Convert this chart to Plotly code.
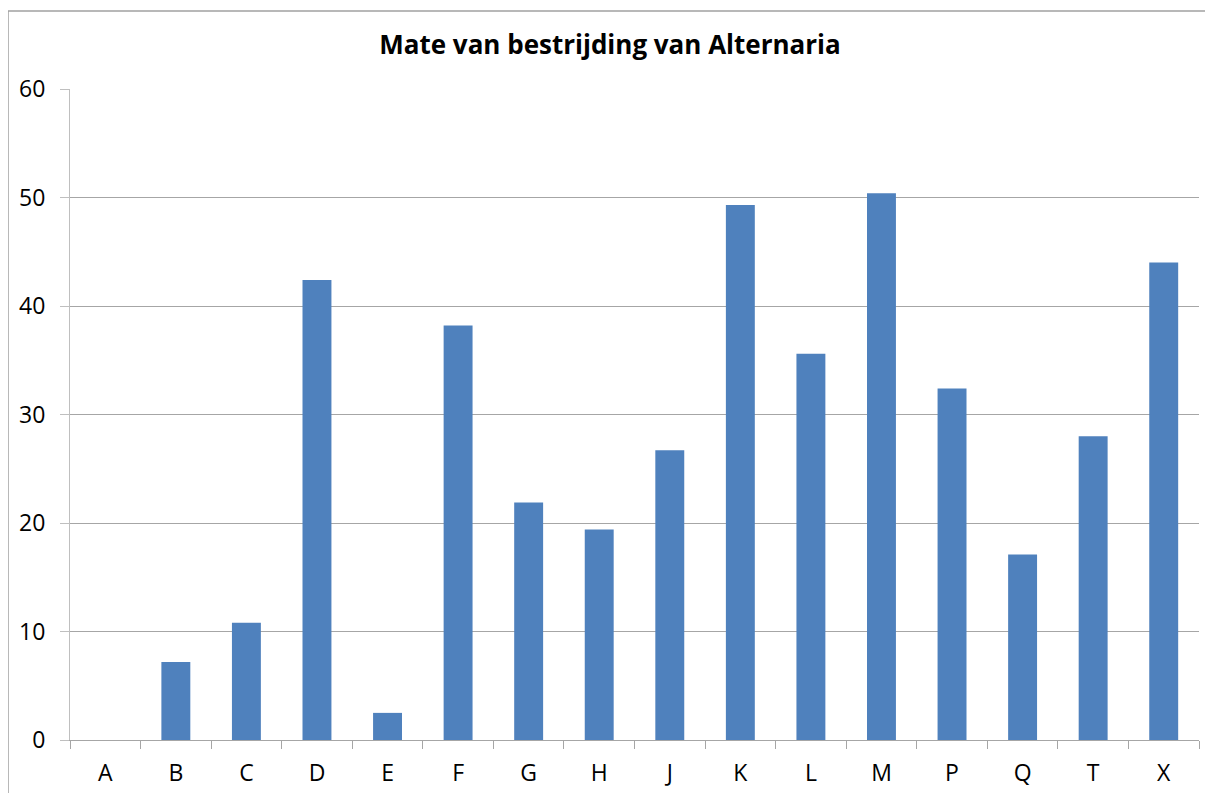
import plotly.graph_objects as go

categories = ["A", "B", "C", "D", "E", "F", "G", "H", "J", "K", "L", "M", "P", "Q", "T", "X"]
values = [0, 7.2, 10.8, 42.4, 2.5, 38.2, 21.9, 19.4, 26.7, 49.3, 35.6, 50.4, 32.4, 17.1, 28.0, 44.0]
y_ticks = [0, 10, 20, 30, 40, 50, 60]
title_text = "Mate van bestrijding van Alternaria"

# page has an 8px body margin, so figure coords = screen coords - 8
W, H = 1213, 793
L, R, T, B = 62, 22, 81, 61
pw = W - L - R
ph = H - T - B

fig = go.Figure()
fig.add_trace(go.Bar(
    x=categories, y=values,
    marker=dict(color="#4F81BD", line=dict(width=0)),
    width=0.41,
))

fig.update_layout(
    width=W, height=H,
    margin=dict(l=L, r=R, t=T, b=B),
    paper_bgcolor="white", plot_bgcolor="white",
    showlegend=False,
    font=dict(family="Open Sans, Carlito, Calibri, sans-serif", color="black"),
    title=dict(text="<b>" + title_text + "</b>", x=602 / W, xanchor="center",
               y=1 - 37 / H, yanchor="middle", xref="container", yref="container",
               font=dict(size=26, color="black")),
    xaxis=dict(
        type="category", range=[-0.5, len(categories) - 0.5],
        showgrid=False, showline=True, linecolor="#A6A6A6", linewidth=1,
        ticks="outside", ticklen=8, tickcolor="#A6A6A6", tickson="boundaries",
        tickfont=dict(size=23), zeroline=False, ticklabelstandoff=12,
    ),
    yaxis=dict(
        range=[0, 60], tickvals=y_ticks, showgrid=True, gridcolor="#A6A6A6", gridwidth=1,
        showline=True, linecolor="#BFBFBF", linewidth=1,
        ticks="outside", ticklen=9, tickcolor="#BFBFBF",
        tickfont=dict(size=23), zeroline=False, ticklabelstandoff=10,
    ),
)

# outer chart border (top and left edges visible)
x_left = (0 - L) / pw
y_top = (H - B - 3) / ph
fig.add_shape(type="line", xref="paper", yref="paper", x0=x_left, x1=(W - L + 5) / pw,
              y0=y_top, y1=y_top, line=dict(color="#A0A0A0", width=1.5))
fig.add_shape(type="line", xref="paper", yref="paper", x0=x_left, x1=x_left,
              y0=y_top, y1=-(B + 5) / ph, line=dict(color="#A0A0A0", width=1.5))

fig.write_html("out.html")
